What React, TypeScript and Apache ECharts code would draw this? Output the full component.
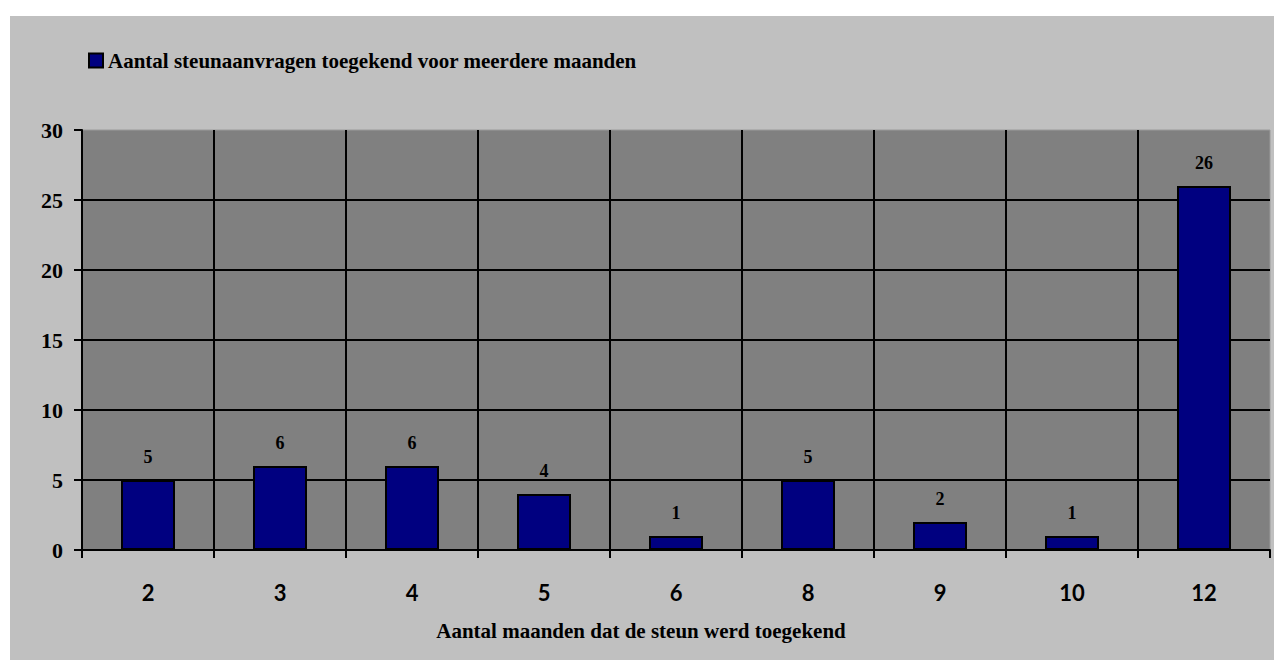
import React, { useEffect, useRef } from "react";
import * as echarts from "echarts";

const categories = ["2", "3", "4", "5", "6", "8", "9", "10", "12"];
const values = [5, 6, 6, 4, 1, 5, 2, 1, 26];
const seriesName = "Aantal steunaanvragen toegekend voor meerdere maanden";
const xAxisName = "Aantal maanden dat de steun werd toegekend";

const SERIF = "Liberation Serif";
const SANS = "Lato";

export default function App() {
  const ref = useRef<HTMLDivElement>(null);

  useEffect(() => {
    document.body.style.margin = "0";
    if (!ref.current) return;
    const chart = echarts.init(ref.current, undefined, { renderer: "svg" });
    chart.setOption({
      animation: false,
      backgroundColor: "#ffffff",
      graphic: [
        {
          type: "rect",
          silent: true,
          z: -100,
          shape: { x: 10, y: 16, width: 1264, height: 644 },
          style: { fill: "#c0c0c0" },
        },
      ],
      legend: {
        left: 83,
        top: 45,
        icon: "rect",
        itemWidth: 14,
        itemHeight: 14,
        textStyle: {
          fontFamily: SERIF,
          fontWeight: "bold",
          fontSize: 21,
          color: "#000",
        },
        data: [seriesName],
      },
      grid: {
        left: 82,
        right: 4,
        top: 130,
        bottom: 110,
        show: true,
        backgroundColor: "#808080",
        borderColor: "#9a9a9a",
        borderWidth: 1,
        containLabel: false,
      },
      xAxis: {
        type: "category",
        data: categories,
        boundaryGap: true,
        name: xAxisName,
        nameLocation: "middle",
        nameGap: 70,
        nameTextStyle: {
          fontFamily: SERIF,
          fontWeight: "bold",
          fontSize: 21,
          color: "#000",
          padding: [0, 70, 0, 0],
        },
        axisLine: { show: true, lineStyle: { color: "#000", width: 2 } },
        axisTick: { show: true, length: 8, lineStyle: { color: "#000", width: 2 } },
        axisLabel: {
          margin: 31,
          fontFamily: SANS,
          fontWeight: "bold",
          fontSize: 22,
          color: "#000",
        },
        splitLine: {
          show: true,
          showMinLine: false,
          showMaxLine: false,
          lineStyle: { color: "#000", width: 2 },
        },
      },
      yAxis: {
        type: "value",
        min: 0,
        max: 30,
        interval: 5,
        axisLine: { show: true, lineStyle: { color: "#000", width: 2 } },
        axisTick: { show: true, length: 8, lineStyle: { color: "#000", width: 2 } },
        axisLabel: {
          margin: 19,
          fontFamily: SERIF,
          fontWeight: "bold",
          fontSize: 22,
          color: "#000",
        },
        splitLine: {
          show: true,
          showMinLine: false,
          showMaxLine: false,
          lineStyle: { color: "#000", width: 2 },
        },
      },
      series: [
        {
          name: seriesName,
          type: "bar",
          data: values,
          barWidth: 54,
          itemStyle: { color: "#000080", borderColor: "#000", borderWidth: 2 },
          label: {
            show: true,
            position: "top",
            distance: 14,
            fontFamily: SERIF,
            fontWeight: "bold",
            fontSize: 18,
            color: "#000",
          },
        },
      ],
    });
    return () => chart.dispose();
  }, []);

  return <div ref={ref} style={{ width: 1274, height: 660 }} />;
}
